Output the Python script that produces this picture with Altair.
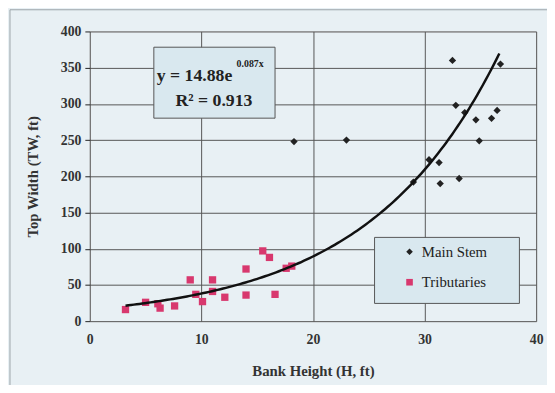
import altair as alt
import pandas as pd

# Main stem (diamonds)
main_h = [18.3, 23.0, 32.5, 36.8, 32.8, 33.6, 34.6, 36.5, 36.0, 34.9, 30.4, 31.3, 29.0, 31.4, 33.1]
main_w = [248, 250, 360, 355, 298, 288, 278, 291, 280, 249, 223, 219, 192, 190, 197]
# Tributaries (squares)
trib_h = [3.2, 5.0, 6.1, 6.3, 7.6, 9.0, 9.5, 10.1, 11.0, 11.0, 12.1, 14.0, 14.0, 15.5, 16.1, 16.6, 17.6, 18.1]
trib_w = [16, 26, 24, 18, 21, 57, 37, 27, 57, 41, 33, 72, 36, 97, 88, 37, 73, 76]

series = ["Main Stem"] * len(main_h) + ["Tributaries"] * len(trib_h)
df = pd.DataFrame({
    "H": main_h + trib_h,
    "TW": main_w + trib_w,
    "series": series,
})

FONT = "Liberation Serif"

xscale = alt.Scale(domain=[0, 40], nice=False, zero=True)
yscale = alt.Scale(domain=[0, 400], nice=False)

xax = alt.Axis(values=[0, 10, 20, 30, 40], title="Bank Height (H, ft)", ticks=False, domain=False,
               labelPadding=12, labelFont=FONT, labelFontWeight="bold", labelFontSize=14,
               labelColor="#333", titleFont=FONT, titleFontWeight="bold", titleFontSize=15,
               titleColor="#333", titlePadding=17, gridColor="#555", gridOpacity=1, labelFlush=False,
               labelOverlap=False)
yax = alt.Axis(values=[0, 50, 100, 150, 200, 250, 300, 350, 400], title="Top Width (TW, ft)", ticks=True,
               tickSize=5, tickColor="#222", domain=False, labelPadding=4, labelFont=FONT,
               labelFontWeight="bold", labelFontSize=14, labelColor="#333", titleFont=FONT,
               titleFontWeight="bold", titleFontSize=15, titleColor="#333", titlePadding=20,
               gridColor="#555", gridOpacity=1, labelOverlap=False)

base = alt.Chart(df)
one = pd.DataFrame({"a": [0]})

# outer frame (stroke only)
frame = alt.Chart(one).mark_rect(fill="#ffffff", fillOpacity=0, stroke="#9aa3a8", strokeWidth=1).encode(
    x=alt.value(-81), x2=alt.value(470), y=alt.value(-22), y2=alt.value(370))

points = base.mark_point(filled=True, opacity=1, size=55).encode(
    x=alt.X("H:Q", scale=xscale, axis=xax),
    y=alt.Y("TW:Q", scale=yscale, axis=yax),
    color=alt.Color("series:N", scale=alt.Scale(domain=["Main Stem", "Tributaries"], range=["#222222", "#d8386e"]),
                    legend=alt.Legend(title=None, orient="none", legendX=317, legendY=216, rowPadding=15,
                                      labelFont=FONT, labelFontSize=15, labelColor="#222", symbolSize=45,
                                      labelOffset=5)),
    shape=alt.Shape("series:N", scale=alt.Scale(domain=["Main Stem", "Tributaries"], range=["diamond", "square"]),
                    legend=None),
)

# exponential trendline: least squares on ln(TW), as a spreadsheet trendline does
trend = base.transform_calculate(logTW="log(datum.TW)").transform_regression(
    "H", "logTW", method="linear", params=True
).transform_calculate(hs="sequence(3.2, 36.9, 0.25)").transform_flatten(["hs"]).transform_calculate(
    fit="exp(datum.coef[0] + datum.coef[1] * datum.hs)"
).mark_line(color="#111", strokeWidth=2.5).encode(
    x=alt.X("hs:Q", scale=xscale, axis=xax), y=alt.Y("fit:Q", scale=yscale, axis=yax))

eqbox = alt.Chart(one).mark_rect(fill="#d9e8ef", stroke="#555", strokeWidth=1).encode(
    x=alt.value(65), x2=alt.value(188), y=alt.value(16), y2=alt.value(88))
eq1 = alt.Chart(one).mark_text(text="y = 14.88e", font=FONT, fontWeight="bold", fontSize=18, align="left",
                                baseline="middle", color="#222").encode(x=alt.value(68), y=alt.value(45))
eq2 = alt.Chart(one).mark_text(text="0.087x", font=FONT, fontWeight="bold", fontSize=10, align="left",
                                baseline="middle", color="#222").encode(x=alt.value(149), y=alt.value(33))
eq3 = alt.Chart(one).mark_text(text="R² = 0.913", font=FONT, fontWeight="bold", fontSize=18, align="center",
                                baseline="middle", color="#222").encode(x=alt.value(126), y=alt.value(71))

legbox = alt.Chart(one).mark_rect(fill="#d9e8ef", stroke="#555", strokeWidth=1).encode(
    x=alt.value(289), x2=alt.value(436), y=alt.value(209), y2=alt.value(276))

chart = alt.layer(frame, legbox, points, trend, eqbox, eq1, eq2, eq3).properties(
    width=453, height=294,
    autosize=alt.AutoSizeParams(type="none"),
    padding={"left": 83, "top": 21, "right": 11, "bottom": 62},
).configure_view(stroke="#222", strokeWidth=1.2, fill="#e9ebeb").configure(background="#e8f0f4")

chart.save("out.html", embed_options={"renderer": "svg", "actions": False})
